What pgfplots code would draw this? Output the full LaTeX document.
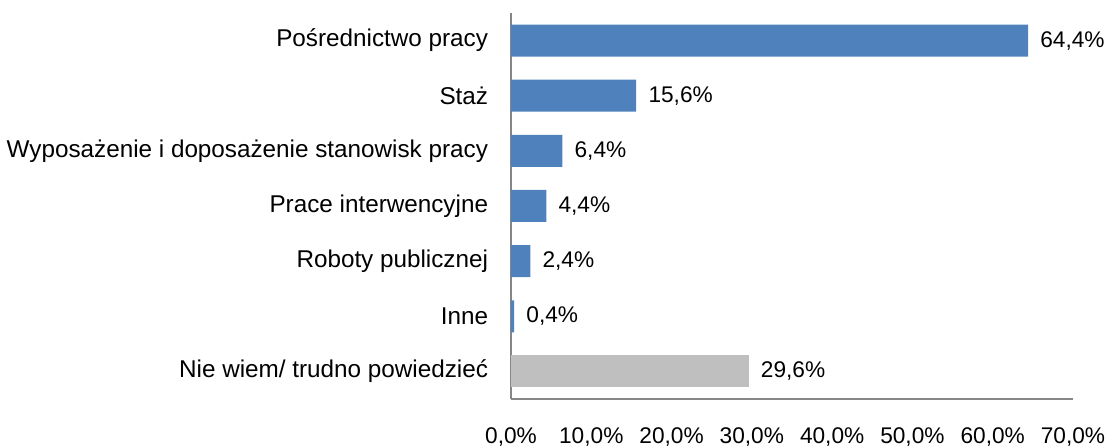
\documentclass[border=0pt]{standalone}
\usepackage{fontspec}
\setmainfont{Liberation Sans}
\usepackage{pgfplots}
\pgfplotsset{compat=1.18}
\definecolor{barblue}{RGB}{79,129,189}
\definecolor{bargray}{RGB}{191,191,191}
\definecolor{axisgray}{RGB}{134,134,134}

\begin{document}
\begin{tikzpicture}[x=1pt,y=1pt]
\begin{axis}[
    at={(0,0)}, anchor=south west,
    scale only axis,
    width=421.5pt, height=289.5pt,
    xbar, bar width=24pt, bar shift=0pt,
    xmin=0, xmax=70,
    ymin=-0.5, ymax=6.5,
    axis x line*=bottom, axis y line*=left,
    axis line style={axisgray, line width=1.5pt},
    major tick length=0pt,
    xtick={0,10,...,70},
    ytick={0,...,6},
    yticklabels={Nie wiem/ trudno powiedzieć, Inne, Roboty publicznej, Prace interwencyjne,
        Wyposażenie i doposażenie stanowisk pracy, Staż, Pośrednictwo pracy},
    font=\fontsize{17}{20}\selectfont,
    /pgf/number format/assume math mode=true,
    xticklabel={\pgfmathprintnumber[fixed,fixed zerofill,precision=1,use comma]{\tick}\%},
    xticklabel style={anchor=center, inner sep=0pt, yshift=-28.5pt},
    yticklabel style={anchor=east, inner sep=0pt, xshift=-17pt, font=\fontsize{18.2}{21}\selectfont},
    nodes near coords={\pgfmathprintnumber[fixed,fixed zerofill,precision=1,use comma]{\pgfplotspointmeta}\%},
    nodes near coords style={anchor=west, inner sep=0pt, xshift=9pt, black},
    point meta=explicit,
    clip=false,
]
\addplot[fill=barblue, draw=none] coordinates {
    (64.4,6) [64.4]
    (15.6,5) [15.6]
    (6.4,4) [6.4]
    (4.4,3) [4.4]
    (2.4,2) [2.4]
    (0.4,1) [0.4]
};
\addplot[fill=bargray, draw=none] coordinates {
    (29.6,0) [29.6]
};
\end{axis}
\pgfresetboundingbox
\path[use as bounding box] (-383.25pt,-36.75pt) rectangle (452.25pt,299.25pt);
\end{tikzpicture}
\end{document}
